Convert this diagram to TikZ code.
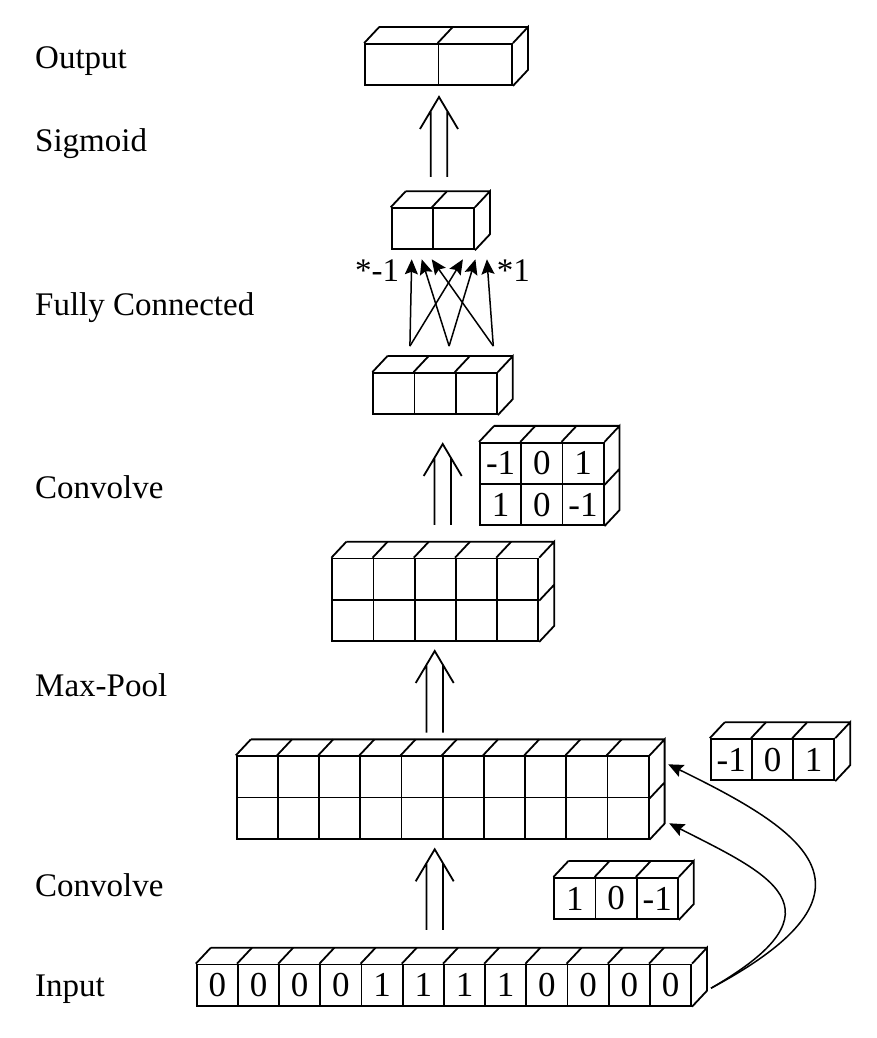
\documentclass[tikz,border=0pt]{standalone}
\usepackage{fontspec}
\setmainfont{Liberation Serif}
\usetikzlibrary{arrows.meta,positioning,calc}
\tikzset{
    cell/.style={
        rectangle,
        draw=black,
        line width=1.8pt,
        minimum width=41.2pt,
        minimum height=41.2pt,
        inner sep=0pt,
        font=\fontsize{35}{40}\selectfont,
    },
    wide cell/.style={
        cell,
        minimum width=73.5pt,
        minimum height=41pt,
    },
    face/.style={
        line width=1.8pt,
    },
    layer/.style={
        anchor=base west,
        inner sep=0pt,
    },
    link/.style={
        line width=1.5pt,
        ->,
    },
    dblarrow/.style={
        line width=1.8pt,
        to path={($(\tikztostart)+(-8.3,0)$) -- ($(\tikztotarget)+(-8.3,-14)$)
            ($(\tikztostart)+(8.3,0)$) -- ($(\tikztotarget)+(8.3,-14)$)
            ($(\tikztotarget)+(-19,-32)$) -- (\tikztotarget) -- ($(\tikztotarget)+(19,-32)$)},
    },
}
% top and right faces of a row of cells
\newcommand{\depth}[3]{%
    \foreach \k in {1,...,#2} \draw[face] (#1\k.north west) -- ++(15,16);
    \draw[face] ($(#11.north west)+(15,16)$) -- ($(#1#2.north east)+(15,16)$)
        (#1#2.north east) -- ++(15,16) -- ($(#3#2.south east)+(15,16)$) -- (#3#2.south east)
        (#1#2.south east) -- ++(15,16);}

\begin{document}
\begin{tikzpicture}[x=1pt,y=1pt,node distance=41.2pt,>={Stealth[length=15pt,width=13pt,inset=2.5pt]},
    font=\fontsize{33}{40}\selectfont]
    \useasboundingbox (0,0) rectangle (876,1038);
    % layer names
    \node [layer] (lout) at (35,969) {Output};
    \node [layer] (lsig) at (35,886) {Sigmoid};
    \node [layer] (lfc) at (35,722) {Fully Connected};
    \node [layer] (lconvb) at (35,539) {Convolve};
    \node [layer] (lpool) at (35,341) {Max-Pool};
    \node [layer] (lconva) at (35,141) {Convolve};
    \node [layer] (lin) at (35,41) {Input};
    % input
    \node [cell] (i1) at (217.3,52.8) {0};
    \foreach \v [count=\k from 2] in {0,0,0,1,1,1,1,0,0,0,0} {
        \pgfmathtruncatemacro\p{\k-1}
        \node [cell] (i\k) [right of=i\p] {\v};
    }
    \depth{i}{12}{i}
    % first filters
    \node [cell] (fa1) at (574.9,139.5) {1};
    \node [cell] (fa2) [right of=fa1] {0};
    \node [cell] (fa3) [right of=fa2] {-1};
    \depth{fa}{3}{fa}
    \node [cell] (fb1) at (731.3,278.3) {-1};
    \node [cell] (fb2) [right of=fb1] {0};
    \node [cell] (fb3) [right of=fb2] {1};
    \depth{fb}{3}{fb}
    % convolved
    \node [cell] (ca1) at (257.3,261.1) {};
    \node [cell] (cb1) [below of=ca1] {};
    \foreach \k in {2,...,10} {
        \pgfmathtruncatemacro\p{\k-1}
        \node [cell] (ca\k) [right of=ca\p] {};
        \node [cell] (cb\k) [below of=ca\k] {};
    }
    \depth{ca}{10}{cb}
    % pooled
    \node [cell] (pa1) at (352.9,458.8) {};
    \node [cell] (pb1) [below of=pa1] {};
    \foreach \k in {2,...,5} {
        \pgfmathtruncatemacro\p{\k-1}
        \node [cell] (pa\k) [right of=pa\p] {};
        \node [cell] (pb\k) [below of=pa\k] {};
    }
    \depth{pa}{5}{pb}
    % second filter
    \node [cell] (ka1) at (500.6,574.6) {-1};
    \node [cell] (ka2) [right of=ka1] {0};
    \node [cell] (ka3) [right of=ka2] {1};
    \node [cell] (kb1) [below of=ka1] {1};
    \node [cell] (kb2) [right of=kb1] {0};
    \node [cell] (kb3) [right of=kb2] {-1};
    \depth{ka}{3}{kb}
    % fully connected
    \node [cell] (fc1) at (393.9,644.4) {};
    \node [cell] (fc2) [right of=fc1] {};
    \node [cell] (fc3) [right of=fc2] {};
    \depth{fc}{3}{fc}
    \node [cell] (s1) at (412.2,809.2) {};
    \node [cell] (s2) [right of=s1] {};
    \depth{s}{2}{s}
    % output
    \node [wide cell] (o1) at (401.8,973.5) {};
    \node [wide cell] (o2) [node distance=73.5pt,right of=o1] {};
    \depth{o}{2}{o}
    % weights
    \node [layer] (wneg) at (355,756.3) {*-1};
    \node [layer] (wpos) at (496.7,756.3) {*1};
    \coordinate (u1) at ($(fc1.north)+(16,26)$);
    \coordinate (u2) at ($(fc2.north)+(14,26)$);
    \coordinate (u3) at ($(fc3.north)+(17,26)$);
    \coordinate (v1) at ($(s1.south)+(-0.5,-9)$);
    \coordinate (v2) at ($(s1.south)+(9.5,-9)$);
    \coordinate (v3) at ($(s1.south)+(19.5,-9)$);
    \coordinate (w1) at ($(s2.south)+(9.5,-9)$);
    \coordinate (w2) at ($(s2.south)+(22,-9)$);
    \coordinate (w3) at ($(s2.south)+(33.5,-9)$);
    \path [link] (u1) edge (v1) edge (w1);
    \path [link] (u2) edge (v2) edge (w2);
    \path [link] (u3) edge (v3) edge (w3);
    % layer steps
    \coordinate (a1) at (434.7,108);   \coordinate (b1) at (434.7,188.7);
    \coordinate (a2) at (434.7,305.3); \coordinate (b2) at (434.7,387);
    \coordinate (a3) at (442.7,513);   \coordinate (b3) at (442.7,594);
    \coordinate (a4) at (439,861);     \coordinate (b4) at (439,941);
    \draw [dblarrow] (a1) to (b1);
    \draw [dblarrow] (a2) to (b2);
    \draw [dblarrow] (a3) to (b3);
    \draw [dblarrow] (a4) to (b4);
    % filters sliding over the input
    \coordinate (src) at ($(i12.east)+(19,-3)$);
    \coordinate (tipa) at ($(ca10.east)+(18.6,12.6)$);
    \coordinate (tipb) at ($(cb10.east)+(19.6,-5.2)$);
    \draw [link] (src) .. controls +(185,99) and +(135,-66) .. (tipa);
    \draw [link] (src) .. controls +(139,80) and +(98,-50) .. (tipb);
\end{tikzpicture}
\end{document}
